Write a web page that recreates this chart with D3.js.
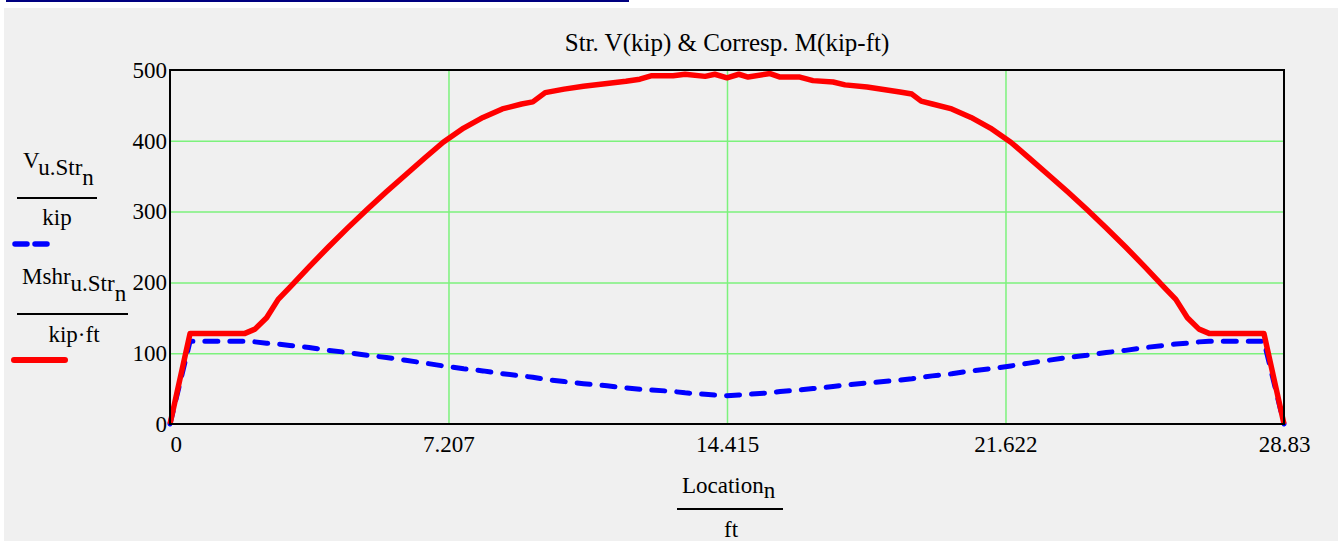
<!DOCTYPE html>
<html><head><meta charset="utf-8">
<script src="https://cdn.jsdelivr.net/npm/d3@7"></script>
<style>
html,body{margin:0;padding:0;background:#ffffff;}
svg{display:block;font-family:"Liberation Serif","Times New Roman",serif;}
</style></head><body>
<svg id="chart" width="1339" height="541"></svg>
<script>
// ---- data ----
const locationFt = [0, 0.52, 1.94, 2.2, 2.5, 2.8, 3.1, 3.6, 4.1, 4.6, 5.1, 5.6, 6.1, 6.6, 7.07, 7.6, 8.1, 8.6, 9.1, 9.39, 9.71, 10.2, 10.7, 11.31, 11.8, 12.16, 12.47, 13.02, 13.33, 13.85, 14.1, 14.415,
  14.72, 14.96, 15.53, 15.79, 16.3, 16.64, 17.16, 17.47, 18.04, 18.89, 19.2, 19.44, 19.73, 20.23, 20.73, 21.23, 21.76, 22.23, 22.73, 23.23, 23.73, 24.23, 24.73, 25.23, 25.73, 26.03, 26.33, 26.63, 26.89, 28.31, 28.83];
const shearV = [0, 117, 117, 116, 114, 113, 111, 108, 104, 101, 97, 94, 90, 86, 82, 78, 75, 71, 68, 66, 63, 60, 57, 54, 51, 49, 48, 46, 44, 42, 41, 40,
  41, 42, 44, 46, 48, 50, 53, 55, 58, 62, 64, 66, 68, 71, 75, 78, 82, 86, 90, 94, 97, 101, 104, 108, 111, 113, 114, 116, 117, 117, 0];
const momentM = [0, 128, 128, 134, 150, 176, 193, 222, 250, 277, 303, 328, 352, 376, 398, 418, 433, 445, 452, 455, 468, 473, 477, 481, 484, 487, 492, 492, 494, 491, 494, 489,
  494, 490, 495, 490, 490, 485, 483, 479, 476, 469, 466, 456, 452, 445, 433, 418, 398, 376, 352, 328, 303, 277, 250, 222, 193, 176, 150, 134, 128, 128, 0];
const xTickValues = [0, 7.207, 14.415, 21.622, 28.83];
const xTickLabels = ["0", "7.207", "14.415", "21.622", "28.83"];
const yTickValues = [0, 100, 200, 300, 400, 500];
const yTickLabels = ["0", "100", "200", "300", "400", "500"];
const titleText = "Str. V(kip) & Corresp. M(kip-ft)";

// ---- layout ----
const W = 1339, H = 541;
const plot = {x0: 170, x1: 1284, y0: 70, y1: 424};
const FS = 23;
const svg = d3.select("#chart");

svg.append("rect").attr("x", 4).attr("y", 8).attr("width", W - 5).attr("height", H - 8).attr("fill", "#f0f0f0");
svg.append("rect").attr("x", 6).attr("y", 0).attr("width", 623).attr("height", 2).attr("fill", "#000080");

const x = d3.scaleLinear().domain([0, 28.83]).range([plot.x0, plot.x1]);
const y = d3.scaleLinear().domain([0, 500]).range([plot.y1, plot.y0]);

// grid
const gridX = svg.append("g").attr("transform", `translate(0,${plot.y1})`)
  .call(d3.axisBottom(x).tickValues(xTickValues.slice(1, -1)).tickSize(-(plot.y1 - plot.y0)).tickFormat(""));
gridX.select(".domain").remove();
gridX.selectAll("line").attr("stroke", "#7cf27c").attr("stroke-width", 1.5);
const gridY = svg.append("g").attr("transform", `translate(${plot.x0},0)`)
  .call(d3.axisLeft(y).tickValues(yTickValues.slice(1, -1)).tickSize(-(plot.x1 - plot.x0)).tickFormat(""));
gridY.select(".domain").remove();
gridY.selectAll("line").attr("stroke", "#7cf27c").attr("stroke-width", 1.5);

// tick labels
const ax = svg.append("g").attr("transform", `translate(0,${plot.y1})`)
  .call(d3.axisBottom(x).tickValues(xTickValues).tickSize(0).tickPadding(0)
    .tickFormat((d, i) => xTickLabels[i]));
ax.select(".domain").remove();
ax.selectAll("text").attr("font-family", "Liberation Serif").attr("font-size", FS).attr("fill", "#000")
  .attr("dy", null).attr("y", 28)
  .attr("text-anchor", (d, i) => i === 0 ? "start" : "middle");
const ay = svg.append("g").attr("transform", `translate(${plot.x0},0)`)
  .call(d3.axisLeft(y).tickValues(yTickValues).tickSize(0).tickPadding(3)
    .tickFormat((d, i) => yTickLabels[i]));
ay.select(".domain").remove();
ay.selectAll("text").attr("font-family", "Liberation Serif").attr("font-size", FS).attr("fill", "#000");

// series
const pts = locationFt.map((l, i) => ({l, v: shearV[i], m: momentM[i]}));
const clipId = "clipPlot";
svg.append("clipPath").attr("id", clipId).append("rect")
  .attr("x", plot.x0 - 4).attr("y", plot.y0).attr("width", plot.x1 - plot.x0 + 8).attr("height", plot.y1 - plot.y0 + 4);
svg.append("path").datum(pts)
  .attr("d", d3.line().x(d => x(d.l)).y(d => y(d.v)))
  .attr("fill", "none").attr("stroke", "#0000ff").attr("stroke-width", 5)
  .attr("stroke-dasharray", "13,12").attr("stroke-linecap", "round").attr("stroke-linejoin", "round")
  .attr("clip-path", `url(#${clipId})`);
svg.append("path").datum(pts)
  .attr("d", d3.line().x(d => x(d.l)).y(d => y(d.m)))
  .attr("fill", "none").attr("stroke", "#ff0000").attr("stroke-width", 5.5)
  .attr("stroke-linejoin", "round")
  .attr("clip-path", `url(#${clipId})`);

// frame
svg.append("rect").attr("x", plot.x0).attr("y", plot.y0).attr("width", plot.x1 - plot.x0).attr("height", plot.y1 - plot.y0)
  .attr("fill", "none").attr("stroke", "#000").attr("stroke-width", 2);

// title
svg.append("text").attr("x", 727).attr("y", 51).attr("text-anchor", "middle").attr("font-size", 25).text(titleText);

// x axis title
const xt = svg.append("text").attr("x", 682).attr("y", 493).attr("font-size", FS);
xt.append("tspan").text("Location");
xt.append("tspan").attr("dy", 5).text("n");
svg.append("line").attr("x1", 677).attr("x2", 783).attr("y1", 509).attr("y2", 509).attr("stroke", "#000").attr("stroke-width", 2);
svg.append("text").attr("x", 731).attr("y", 537).attr("text-anchor", "middle").attr("font-size", FS).text("ft");

// legend
const l1 = svg.append("text").attr("x", 23).attr("y", 168).attr("font-size", FS);
l1.append("tspan").text("V");
l1.append("tspan").attr("dy", 7).text("u.Str");
l1.append("tspan").attr("dy", 10).text("n");
svg.append("line").attr("x1", 17).attr("x2", 97).attr("y1", 198).attr("y2", 198).attr("stroke", "#000").attr("stroke-width", 2);
svg.append("text").attr("x", 57).attr("y", 225).attr("text-anchor", "middle").attr("font-size", FS).text("kip");
svg.append("line").attr("x1", 15).attr("x2", 54).attr("y1", 244).attr("y2", 244)
  .attr("stroke", "#0000ff").attr("stroke-width", 5.5).attr("stroke-linecap", "round").attr("stroke-dasharray", "12,8");

const l2 = svg.append("text").attr("x", 22).attr("y", 284).attr("font-size", FS);
l2.append("tspan").text("Mshr");
l2.append("tspan").attr("dy", 7).text("u.Str");
l2.append("tspan").attr("dy", 10).text("n");
svg.append("line").attr("x1", 17).attr("x2", 128).attr("y1", 314).attr("y2", 314).attr("stroke", "#000").attr("stroke-width", 2);
svg.append("text").attr("x", 74).attr("y", 342).attr("text-anchor", "middle").attr("font-size", FS).text("kip·ft");
svg.append("line").attr("x1", 14).attr("x2", 65).attr("y1", 360).attr("y2", 360)
  .attr("stroke", "#ff0000").attr("stroke-width", 6).attr("stroke-linecap", "round");
</script>
</body></html>
